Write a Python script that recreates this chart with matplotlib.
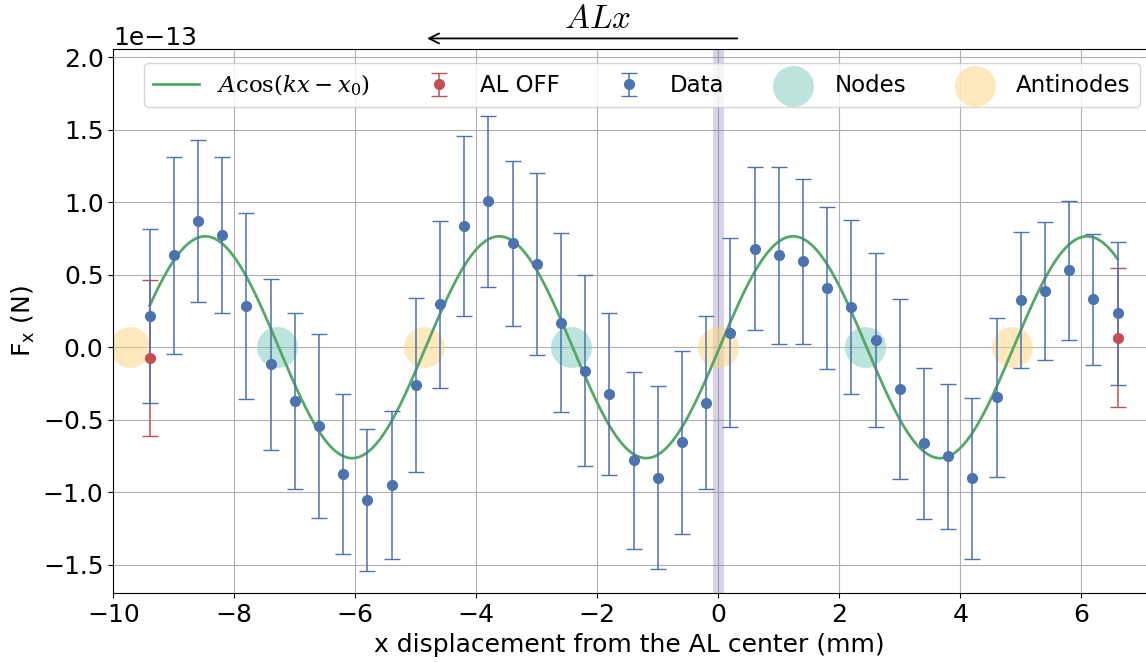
import numpy as np
import matplotlib.pyplot as plt

plt.rcParams['font.size'] = 18
plt.rcParams['mathtext.fontset'] = 'cm'

# positions along the AL (mm)
x = np.array([-9.4, -9.0, -8.6, -8.2, -7.8, -7.4, -7.0, -6.6, -6.2, -5.8, -5.4,
              -5.0, -4.6, -4.2, -3.8, -3.4, -3.0, -2.6, -2.2, -1.8, -1.4, -1.0,
              -0.6, -0.2, 0.2, 0.6, 1.0, 1.4, 1.8, 2.2, 2.6, 3.0, 3.4, 3.8,
              4.2, 4.6, 5.0, 5.4, 5.8, 6.2, 6.6])
# measured force (units of 1e-13 N) and its uncertainty
fx = np.array([0.216, 0.635, 0.872, 0.773, 0.285, -0.117, -0.371, -0.543, -0.875,
               -1.054, -0.948, -0.258, 0.295, 0.836, 1.006, 0.716, 0.575, 0.170,
               -0.161, -0.322, -0.780, -0.900, -0.656, -0.382, 0.101, 0.681,
               0.633, 0.592, 0.407, 0.276, 0.050, -0.290, -0.663, -0.753,
               -0.905, -0.345, 0.327, 0.387, 0.530, 0.331, 0.233])
fx_err = np.array([0.60, 0.68, 0.56, 0.54, 0.64, 0.59, 0.61, 0.635, 0.55, 0.49, 0.51,
                   0.60, 0.575, 0.62, 0.59, 0.57, 0.63, 0.62, 0.66, 0.556, 0.61,
                   0.63, 0.63, 0.596, 0.65, 0.56, 0.61, 0.567, 0.56, 0.60, 0.60,
                   0.62, 0.52, 0.50, 0.555, 0.55, 0.47, 0.475, 0.48, 0.45, 0.49])

# AL switched off
x_off = np.array([-9.4, 6.6])
fx_off = np.array([-0.074, 0.067])
fx_off_err = np.array([0.54, 0.48])

# fit parameters for A cos(kx - x0)
A = 0.765
k = 1.293
x0 = 1.60

nodes = np.array([-7.29, -2.43, 2.43])
antinodes = np.array([-9.72, -4.86, 0.0, 4.86])

scale = 1e-13

fig = plt.figure(figsize=(11.46, 6.62), dpi=100)
ax = fig.add_axes([0.0989, 0.1038, 0.9011, 0.8217])

ax.axvspan(-0.09, 0.09, color='#8172B3', alpha=0.3, lw=0)

sn = ax.scatter(nodes, np.zeros_like(nodes), s=870, color='#7dc9bd', alpha=0.5,
                lw=0, label='Nodes', zorder=1)
sa = ax.scatter(antinodes, np.zeros_like(antinodes), s=870, color='#fdd57d', alpha=0.5,
                lw=0, label='Antinodes', zorder=1)

xf = np.linspace(x.min(), x.max(), 600)
lf, = ax.plot(xf, A*np.cos(k*xf - x0)*scale, color='#55A868', lw=2,
              label=r'$A\cos(kx-x_0)$')

eoff = ax.errorbar(x_off, fx_off*scale, yerr=fx_off_err*scale, fmt='o', color='#C44E52',
                   ms=7, capsize=6, elinewidth=1.1, label='AL OFF')
edat = ax.errorbar(x, fx*scale, yerr=fx_err*scale, fmt='o', color='#4C72B0',
                   ms=7, capsize=6, elinewidth=1.1, label='Data')

ax.set_xlim(-10, 7.07)
ax.set_ylim(-1.697*scale, 2.055*scale)
ax.set_yticks(np.arange(-1.5, 2.01, 0.5)*scale)
ax.grid(True)
ax.set_axisbelow(True)
ax.spines['right'].set_visible(False)

ax.set_xlabel('x displacement from the AL center (mm)')
ax.set_ylabel(r'$\mathregular{F_x}$ (N)')

ax.legend(handles=[lf, eoff, edat, sn, sa], ncol=5, loc='upper center',
          bbox_to_anchor=(0.512, 0.995),
          prop=dict(size=16.5, math_fontfamily='dejavuserif'))

# direction of travel along the AL
ax.annotate('', xy=(-4.86, 1.02), xycoords=('data', 'axes fraction'),
            xytext=(0.36, 1.02), textcoords=('data', 'axes fraction'),
            arrowprops=dict(arrowstyle='->', color='k', lw=1.3), annotation_clip=False)
ax.text(-2.0, 1.039, r'$ALx$', transform=ax.get_xaxis_transform(), ha='center',
        va='baseline', fontsize=24)

plt.savefig('out.png', dpi=100)
